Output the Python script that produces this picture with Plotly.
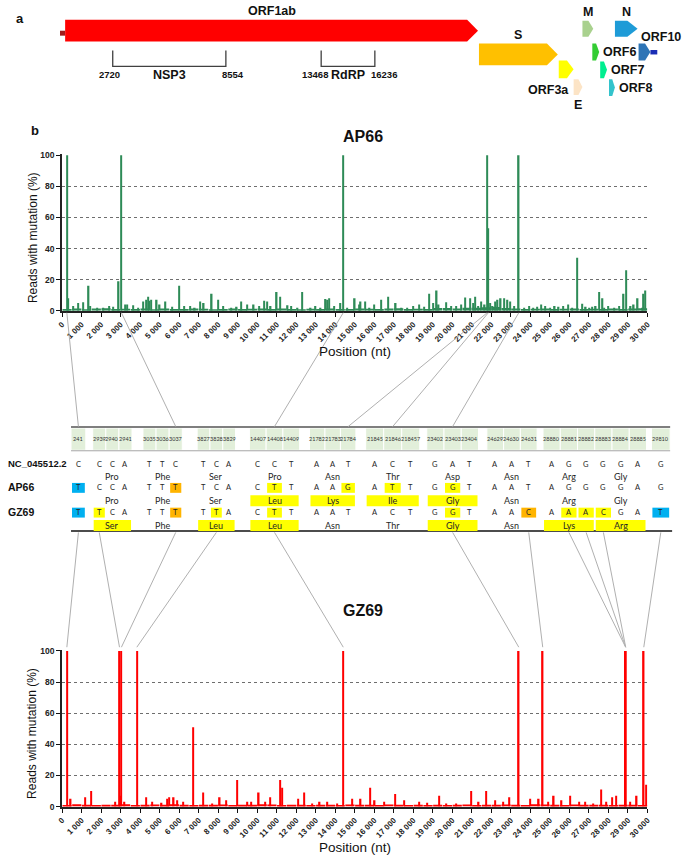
import plotly.graph_objects as go

W, H = 685, 860

# ---------------- panel a : genome map (nt) ----------------
utr5 = [0, 266]
gene_names = ["ORF1ab", "S", "ORF3a", "E", "M", "ORF6", "ORF7", "ORF8", "N", "ORF10"]
gene_start = [266, 21605, 25720, 26485, 26940, 27450, 27855, 28310, 28615, 29835]
gene_end = [21555, 25670, 26485, 26940, 27500, 27805, 28210, 28615, 29785, 30445]
orf10_tail = [30445, 30800]
domain_names = ["NSP3", "RdRP"]
domain_start = [2720, 13468]
domain_end = [8554, 16236]

# ---------------- panel b : reads with mutation (%) ----------------
ap66_pos = [241, 320, 555, 810, 1060, 1360, 1450, 1800, 2120, 2420,
            2630, 2900, 3037, 3240, 3340, 3630, 3900, 4140, 4300, 4400,
            4480, 4550, 4850, 5000, 5300, 5650, 6000, 6260, 6560, 6800,
            7060, 7260, 7670, 7980, 8260, 8680, 8950, 9190, 9470, 9820,
            10100, 10350, 10520, 10690, 11000, 11180, 11560, 11730, 12070, 12300,
            12740, 12990, 13250, 13500, 13590, 13700, 13930, 14270, 14408, 14600,
            15000, 15250, 15300, 15520, 15760, 16000, 16350, 16720, 17100, 17400,
            17700, 18000, 18300, 18550, 18800, 19000, 19200, 19300, 19680, 19950,
            20200, 20450, 20640, 20900, 21050, 21170, 21310, 21480, 21660, 21784,
            21846, 21950, 22070, 22200, 22320, 22480, 22660, 22830, 22970, 23170,
            23403, 23680, 23930, 24150, 24340, 24540, 24750, 25000, 25250, 25450,
            25690, 25940, 26150, 26400, 26670, 26840, 27000, 27180, 27350, 27520,
            27700, 27780, 28000, 28280, 28540, 28780, 28920, 29140, 29300, 29500,
            29750, 29800, 29900]
ap66_val = [100, 8, 3, 5, 5.5, 16, 3, 2, 2, 3,
            2.5, 19, 100, 4, 4, 3.5, 2, 6, 7, 9,
            6.5, 7, 7, 4, 6, 2.5, 16, 3, 3, 2,
            6, 5, 11, 7, 3, 2, 2.5, 6, 4, 4,
            3, 6.5, 6, 3, 12, 9, 3.5, 3, 2, 12,
            2, 3, 2, 7.5, 7, 8, 3, 5, 100, 2,
            8, 4, 6, 6, 2, 4, 7, 9, 5, 2,
            2, 3, 4, 2.5, 11, 5, 13, 4, 5.5, 3,
            3, 4, 8.5, 8, 5, 9, 3, 6, 4, 100,
            53, 5, 3, 6, 7, 8, 8, 7, 6, 3,
            100, 2, 3, 2, 2.5, 4, 3, 2, 3, 2.5,
            3, 4, 2, 34, 4.5, 2.5, 2, 2.5, 3, 12,
            8, 2, 3, 2, 3, 11, 26, 3, 4, 8,
            2, 11, 13]
# background level per 500 nt bin
ap66_base = [1.2, 1.5, 1.0, 1.4, 1.6, 1.1, 1.3, 1.2, 1.5, 1.0,
             1.4, 1.2, 1.1, 1.5, 1.3, 1.0, 1.2, 1.4, 1.1, 1.3,
             1.5, 1.2, 1.4, 1.1, 1.0, 1.3, 1.2, 1.4, 1.1, 1.2,
             1.5, 1.3, 1.1, 1.4, 1.6, 1.2, 1.3, 1.2, 1.8, 1.7,
             1.5, 2.0, 1.9, 2.2, 2.4, 1.8, 1.4, 1.2, 1.3, 1.4,
             1.2, 1.3, 1.5, 1.2, 1.3, 1.1, 1.4, 1.2, 1.5, 1.6]

gz69_pos = [241, 440, 1170, 1500, 2700, 2939, 2970, 3037, 3200, 3828,
            4290, 4600, 5100, 5400, 5480, 5720, 5900, 6200, 6700, 7220,
            7700, 8080, 8390, 8960, 9500, 9700, 10080, 10400, 10650, 11160,
            11290, 12100, 12390, 12800, 13200, 13600, 14100, 14408, 14860, 15300,
            15800, 16020, 16500, 17060, 17540, 18300, 18700, 19320, 19700, 20200,
            20980, 21350, 21720, 22190, 22600, 22930, 23403, 23990, 24430, 24631,
            24900, 25200, 25600, 26040, 26500, 26800, 27200, 27620, 27900, 28200,
            28390, 28881, 28882, 28883, 29100, 29450, 29810, 29940]
gz69_val = [100, 5, 6, 10, 3, 100, 7, 100, 3, 100,
            6, 3, 2.5, 5, 6, 6, 4, 3, 51, 9,
            2, 6, 4, 17, 3, 3, 9, 3, 6, 17,
            12, 5, 9, 2, 3, 3, 2, 100, 5, 5,
            12, 4, 3, 8, 4, 3, 2.5, 7, 2, 2,
            10, 3, 10, 4, 3, 6, 100, 5, 5, 100,
            3, 7, 4, 7, 3, 3, 2, 11, 3, 6,
            7, 100, 100, 100, 3, 7, 100, 14]
gz69_base = [1.0, 1.4, 1.2, 1.0, 1.1, 1.2, 1.4, 1.0, 1.1, 1.3,
             1.2, 1.5, 1.1, 1.0, 1.2, 1.1, 1.3, 1.0, 1.2, 1.1,
             1.4, 1.3, 1.0, 1.2, 1.1, 1.0, 1.2, 1.1, 1.0, 1.3,
             1.1, 1.2, 1.0, 1.3, 1.1, 1.0, 1.2, 1.0, 1.1, 1.0,
             1.2, 1.3, 1.0, 1.1, 1.2, 1.3, 1.2, 1.0, 1.4, 1.3,
             1.2, 1.0, 1.3, 1.2, 1.1, 1.2, 1.0, 1.2, 1.1, 1.0]
base_bin = 500

# ---------------- alignment table ----------------
col_groups = [[241], [2939, 2940, 2941], [3035, 3036, 3037], [3827, 3828, 3829],
              [14407, 14408, 14409], [21782, 21783, 21784], [21845, 21846, 21847],
              [23402, 23403, 23404], [24629, 24630, 24631],
              [28880, 28881, 28882, 28883, 28884, 28885], [29810]]
col_labels = [["241"], ["2939", "2940", "2941"], ["3035", "3036", "3037"],
              ["3827", "3828", "3829"], ["14407", "14408", "14409"],
              ["21782", "21783", "21784"], ["21845", "21846", "218457"],
              ["23402", "23403", "23404"], ["24629", "24630", "24631"],
              ["28880", "28881", "28882", "28883", "28884", "28885"], ["29810"]]
nc_nt = ["C", "CCA", "TTC", "TCA", "CCT", "AAT", "ACT", "GAT", "AAT", "AGGGGA", "G"]
ap66_nt = ["T", "CCA", "TTT", "TCA", "CTT", "AAG", "ATT", "GGT", "AAT", "AGGGGA", "G"]
gz69_nt = ["T", "TCA", "TTT", "TTA", "CTT", "AAT", "ACT", "GGT", "AAC", "AAACGA", "T"]
nc_aa = ["Pro", "Phe", "Ser", "Pro", "Asn", "Thr", "Asp", "Asn", "Arg", "Gly"]
ap66_aa = ["Pro", "Phe", "Ser", "Leu", "Lys", "Ile", "Gly", "Asn", "Arg", "Gly"]
gz69_aa = ["Ser", "Phe", "Leu", "Leu", "Asn", "Thr", "Gly", "Asn", "Lys", "Arg"]

# ---------------- style ----------------
SANS = "Liberation Sans, Arial, sans-serif"
TFONT = "Lato, Calibri, sans-serif"
GREEN = "#2E8B57"
RED = "#FF0000"
gene_colors = ["#FF0000", "#FFC000", "#FFFF00", "#FCE4C6", "#A9D18E",
               "#33CC33", "#00EE90", "#33C3CC", "#1E9BD7", "#2E75B6"]
gene_top = [16, 40, 57, 76, 17, 40, 58, 76, 17, 40]
gene_h = [22, 22, 18, 16, 16, 17, 17, 17, 16, 17]
label_side = ["top", "top", "left", "bottom", "top", "right", "right", "right", "top", "topright"]
MAP_X0, MAP_SCALE = 55.8, 0.01968
PLOT_X0, PLOT_X1 = 58, 652
group_x0 = [67, 89, 140, 195, 248, 309, 366, 428, 489, 546, 656]
group_cw = [15, 13.3, 13.3, 13, 17, 15.7, 18.3, 17.5, 17, 17.5, 19]
BLUE_HL, ORANGE_HL, YELLOW_HL = "#00B0F0", "#FFB400", "#FFFF00"


def px(x):
    return x / W


def py(y):
    return 1 - y / H


def nt_px(pos):
    return PLOT_X0 + pos / 30000 * (PLOT_X1 - PLOT_X0)


shapes, annotations = [], []


def add_text(text, x, y, size, bold=False, color="#111", family=SANS,
             xanchor="center", xref="paper", xshift=0, angle=0):
    # x in pixels for paper refs, in nt for the genome map axis
    annotations.append(dict(text=text, x=px(x) if xref == "paper" else x, y=py(y),
                            xref=xref, yref="paper",
                            showarrow=False, xanchor=xanchor, yanchor="middle",
                            xshift=xshift, textangle=angle,
                            font=dict(size=size, color=color, family=family,
                                      weight="bold" if bold else "normal")))


def add_rect(x0, y0, x1, y1, fill, line_color=None, line_width=0):
    shapes.append(dict(type="rect", xref="paper", yref="paper",
                       x0=px(x0), x1=px(x1), y0=py(y0), y1=py(y1), fillcolor=fill,
                       line=dict(width=line_width, color=line_color or fill)))


def add_line(x0, y0, x1, y1, color, width):
    shapes.append(dict(type="line", xref="paper", yref="paper",
                       x0=px(x0), x1=px(x1), y0=py(y0), y1=py(y1),
                       line=dict(color=color, width=width)))


# ---- genome map ----
shapes.append(dict(type="rect", xref="x3", yref="paper", x0=utr5[0], x1=utr5[1],
                   y0=py(27), y1=py(32), fillcolor="#A11B1B", line_width=0))
shapes.append(dict(type="rect", xref="x3", yref="paper", x0=orf10_tail[0], x1=orf10_tail[1],
                   y0=py(46.5), y1=py(51), fillcolor="#1A2DB5", line_width=0))
for name, s, e, top, h, c, side in zip(gene_names, gene_start, gene_end, gene_top,
                                       gene_h, gene_colors, label_side):
    tip = min(560, 0.45 * (e - s))
    y0, y1 = py(top), py(top + h)
    ym = (y0 + y1) / 2
    shapes.append(dict(type="path", xref="x3", yref="paper", fillcolor=c, line_width=0,
                       path=f"M {s},{y0} L {e - tip},{y0} L {e},{ym} L {e - tip},{y1} L {s},{y1} Z"))
    mid = (s + e) / 2
    if side == "top":
        add_text(name, mid, top - 9, 12.5, True, xref="x3")
    elif side == "bottom":
        add_text(name, mid, top + h + 10, 12.5, True, xref="x3")
    elif side == "left":
        add_text(name, e, 87, 12.5, True, xref="x3", xanchor="right", xshift=-3)
    elif side == "right":
        add_text(name, e, top + h / 2, 12.5, True, xref="x3", xanchor="left", xshift=2)
    else:
        add_text(name, s, top - 7, 12.5, True, xref="x3", xanchor="left")

for name, s, e in zip(domain_names, domain_start, domain_end):
    shapes.append(dict(type="path", xref="x3", yref="paper",
                       path=f"M {s},{py(47)} L {s},{py(63)} L {e},{py(63)} L {e},{py(47)}",
                       line=dict(color="#404040", width=1.3)))
    add_text(str(s), s, 71, 9.5, True, xref="x3", xanchor="right", xshift=9)
    add_text(str(e), e, 71, 9.5, True, xref="x3", xanchor="left", xshift=-6)
    add_text(name, (s + e) / 2, 72, 12.5, True, xref="x3")

add_text("a", 15, 15, 13, True)
add_text("b", 30, 128, 13, True)

# ---- chart titles / axis titles ----
add_text("AP66", 363, 134, 16, True)
add_text("GZ69", 363, 613, 16, True)
add_text("Reads with mutation (%)", 28, 236, 12, angle=-90)
add_text("Reads with mutation (%)", 28, 737, 12, angle=-90)
add_text("Position (nt)", 355, 351, 13.5)
add_text("Position (nt)", 355, 852, 13.5)


# ---- alignment table ----
def cell_center(g, i):
    return group_x0[g] + (i + 0.5) * group_cw[g]


codons = []
for g, grp in enumerate(col_groups):
    if len(grp) >= 3:
        for k in range(0, len(grp), 3):
            codons.append((g, k))

for g, grp in enumerate(col_groups):
    cw = group_cw[g]
    for i, lab in enumerate(col_labels[g]):
        x0 = group_x0[g] + i * cw
        add_rect(x0, 428.5, x0 + cw, 451, "#E2EFDA", "white", 1)
        add_text(lab, x0 + cw / 2, 440, 5.5, family=TFONT, color="#333")
add_line(67, 427.5, 675, 427.5, "#7F7F7F", 2)
add_line(67, 451.5, 675, 451.5, "#A6A6A6", 1)
add_line(67, 532.5, 677, 532.5, "#111111", 1.5)

rows = [("NC_045512.2", nc_nt, nc_aa, 465, 477, 9.5),
        ("AP66", ap66_nt, ap66_aa, 489, 502, 10.5),
        ("GZ69", gz69_nt, gz69_aa, 514, 527, 10.5)]
for name, nts, aas, y_nt, y_aa, fs in rows:
    add_text(name, 1, y_nt - 1, fs, True, xanchor="left")
    for g, grp in enumerate(col_groups):
        cw = group_cw[g]
        for i, base in enumerate(nts[g]):
            cx = cell_center(g, i)
            if base != nc_nt[g][i]:
                if len(grp) < 3:
                    hl = BLUE_HL
                else:
                    ci = codons.index((g, i // 3 * 3))
                    hl = ORANGE_HL if aas[ci] == nc_aa[ci] else YELLOW_HL
                add_rect(cx - cw / 2 + 1, y_nt - 5, cx + cw / 2 - 1, y_nt + 5, hl)
            add_text(base, cx, y_nt, 7.5, family=TFONT, color="#262626")
    for ci, (g, k) in enumerate(codons):
        cw = group_cw[g]
        cx = group_x0[g] + (k + 1.5) * cw
        if aas[ci] != nc_aa[ci]:
            add_rect(cx - 1.5 * cw + 1, y_aa - 5.5, cx + 1.5 * cw - 1, y_aa + 5.5, YELLOW_HL)
        add_text(aas[ci], cx, y_aa, 9, family=TFONT, color="#262626")

# ---- connectors from charts to table ----
for nts, y_plot, y_table in [(ap66_nt, 312, 427), (gz69_nt, 650, 534)]:
    for g, grp in enumerate(col_groups):
        for i, pos in enumerate(grp):
            if nts[g][i] != nc_nt[g][i]:
                add_line(nt_px(pos), y_plot, cell_center(g, i), y_table, "#B0B0B0", 1)

# ---- traces ----
base_x = [base_bin * (i + 0.5) for i in range(len(ap66_base))]
fig = go.Figure()
fig.add_trace(go.Bar(x=base_x, y=ap66_base, width=470, marker_color=GREEN,
                     marker_line_width=0, xaxis="x", yaxis="y"))
fig.add_trace(go.Bar(x=ap66_pos, y=ap66_val, width=70, marker_color=GREEN,
                     marker_line_width=0, xaxis="x", yaxis="y"))
fig.add_trace(go.Bar(x=base_x, y=gz69_base, width=470, marker_color=RED,
                     marker_line_width=0, xaxis="x2", yaxis="y2"))
fig.add_trace(go.Bar(x=gz69_pos, y=gz69_val, width=70, marker_color=RED,
                     marker_line_width=0, xaxis="x2", yaxis="y2"))
fig.add_trace(go.Scatter(x=[0], y=[0], mode="markers", marker_opacity=0,
                         hoverinfo="skip", xaxis="x3", yaxis="y3"))

xax = dict(domain=[px(PLOT_X0), px(PLOT_X1)], range=[0, 30000], dtick=1000, tick0=0,
           tickformat=",d", tickangle=-45, ticks="outside", ticklen=4, tickcolor="#111",
           showline=True, linecolor="#222", linewidth=2, showgrid=False, zeroline=False,
           tickfont=dict(size=8, color="#222", family=SANS, weight="bold"))
yax = dict(range=[0, 100.5], dtick=20, ticks="outside", ticklen=4, tickcolor="#111",
           showline=True, linecolor="#222", linewidth=2, showgrid=True,
           gridcolor="#6E6E6E", griddash="dot", gridwidth=1, zeroline=False,
           tickfont=dict(size=8.5, color="#222", family=SANS, weight="bold"))

fig.update_layout(
    width=W, height=H, margin=dict(l=0, r=0, t=0, b=0),
    paper_bgcolor="white", plot_bgcolor="white", showlegend=False,
    barmode="overlay", separators=". ",
    xaxis=dict(xax, anchor="y"),
    yaxis=dict(yax, domain=[py(310), py(152)], anchor="x"),
    xaxis2=dict(xax, anchor="y2"),
    yaxis2=dict(yax, domain=[py(811), py(653)], anchor="x2"),
    xaxis3=dict(domain=[0, 1], range=[-MAP_X0 / MAP_SCALE, (W - MAP_X0) / MAP_SCALE],
                visible=False, anchor="y3"),
    yaxis3=dict(domain=[py(110), 1], range=[0, 1], visible=False, anchor="x3"),
    shapes=shapes, annotations=annotations,
)

# page body has a default 8px margin; drop it so the figure fills the window
fig.write_html("out.html", config={"displayModeBar": False},
               post_script="document.body.style.margin='0px';")
